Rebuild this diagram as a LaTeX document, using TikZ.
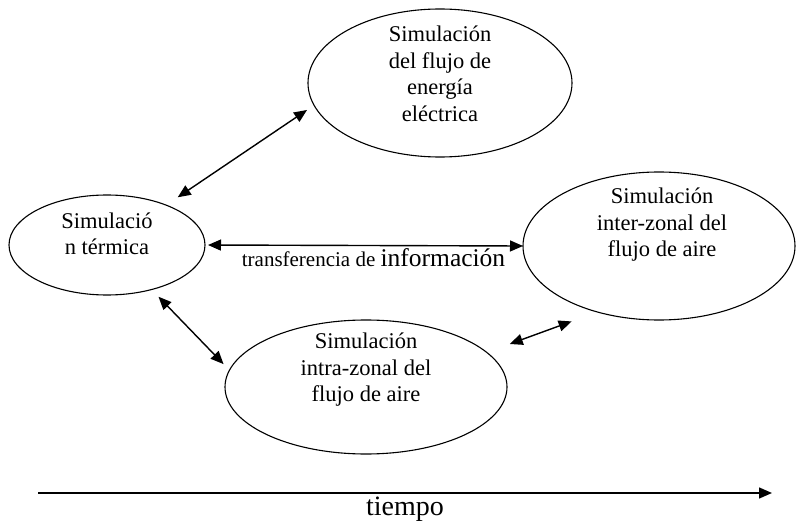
\documentclass[tikz,border=0pt]{standalone}
\usepackage{fontspec}
\setmainfont{Liberation Serif}
\usetikzlibrary{arrows.meta,shapes.geometric}
\tikzset{
  simnode/.style={
    draw,
    ellipse,
    line width=1.1pt,
    inner sep=0pt,
    outer sep=0pt
  },
  simtext/.style={
    align=center,
    inner sep=0pt,
    font=\fontsize{22.5}{26.5}\selectfont
  },
  simflow/.style={{Triangle[length=13pt,width=11pt]}-{Triangle[length=13pt,width=11pt]},line width=1.4pt},
  timeflow/.style={-{Triangle[length=13pt,width=11pt]},line width=1.4pt}
}

\begin{document}
\begin{tikzpicture}[x=1pt,y=-1pt]
  \useasboundingbox (0,0) rectangle (796,524);
  \node[simnode,minimum width=196pt,minimum height=100pt,
    label={[simtext,yshift=11pt]center:{Simulació\\n térmica}}] (term) at (107,245) {};
  \node[simnode,minimum width=264pt,minimum height=148pt,
    label={[simtext,yshift=9pt]center:{Simulación\\del flujo de\\energía\\eléctrica}}] (elec) at (440,83) {};
  \node[simnode,minimum width=272pt,minimum height=148pt,
    label={[simtext,yshift=21pt,xshift=3pt]center:{Simulación\\inter-zonal del\\flujo de aire}}] (inter) at (659,246) {};
  \node[simnode,minimum width=282pt,minimum height=134pt,
    label={[simtext,yshift=17pt]center:{Simulación\\intra-zonal del\\flujo de aire}}] (intra) at (366,387) {};

  \draw[simflow,shorten <=14pt,shorten >=8.5pt] (term.34.5) -- (elec.190);
  \draw[simflow,shorten <=3pt] (term.east) -- (inter.west)
    node[pos=0.53,below=2pt,inner sep=0pt] (info)
    {{\fontsize{21}{24}\selectfont transferencia de }{\fontsize{25.5}{28}\selectfont información}};
  \draw[simflow,shorten <=10pt,shorten >=8.5pt] (term.315.3) -- (intra.173.4);
  \draw[simflow,shorten <=24.5pt,shorten >=27.5pt] (intra.16.9) -- (inter.227.3);

  \coordinate (tstart) at (38,493);
  \coordinate (tend) at (772,493);
  \draw[timeflow] (tstart) -- (tend)
    node[midway,below=3pt,inner sep=0pt,font=\fontsize{28}{32}\selectfont] (tiempo) {tiempo};
\end{tikzpicture}
\end{document}
